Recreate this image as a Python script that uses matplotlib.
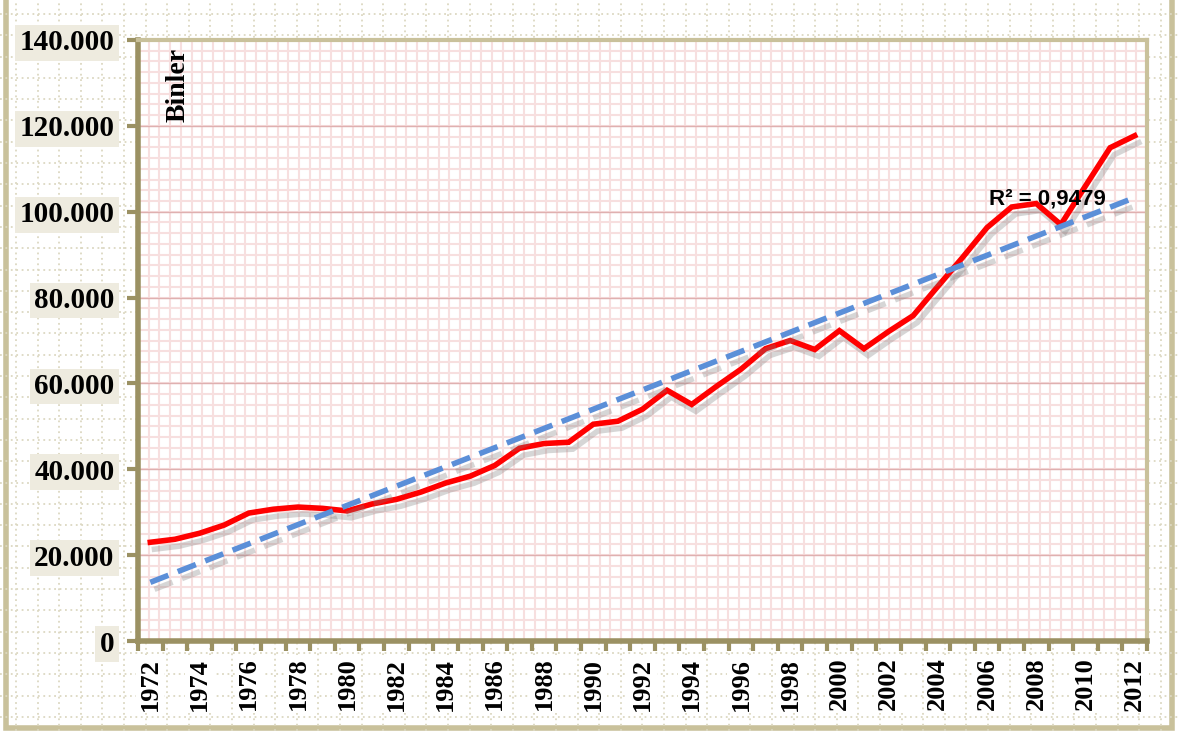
import numpy as np
from matplotlib import pyplot as plt
from matplotlib import patheffects as pe
from matplotlib.patches import Rectangle

# Yillar ve degerler (binler)
years = list(range(1972, 2013))
values = [23000, 23700, 25100, 27000, 29800, 30700, 31200, 30900, 30300, 31900,
          33000, 34700, 36800, 38400, 40900, 44900, 46000, 46300, 50500, 51200,
          54000, 58400, 55100, 59300, 63300, 68100, 70000, 67900, 72300, 68100,
          72100, 75800, 82600, 89300, 96300, 101100, 101900, 97000, 106000, 114900,
          117700]
y_ticks = [0, 20000, 40000, 60000, 80000, 100000, 120000, 140000]
y_labels = ['0', '20.000', '40.000', '60.000', '80.000', '100.000', '120.000', '140.000']
r2_text = 'R² = 0,9479'

olive = '#9b9163'
beige = '#c9c19b'

fig = plt.figure(figsize=(11.78, 7.31), dpi=100)
fig.patch.set_facecolor('white')

# arka plan: noktali izgara
bg = fig.add_axes([0, 0, 1, 1], zorder=-5)
bg.set_xlim(0, 1178)
bg.set_ylim(731, 0)
bg.axis('off')
for gx in np.arange(16, 1178, 21.6):
    bg.axvline(gx, color='#dcd8c2', lw=1.3, ls=(0, (1, 2)))
for gy in np.arange(14, 731, 21.3):
    bg.axhline(gy, color='#dcd8c2', lw=1.3, ls=(0, (1, 2)))
bg.add_patch(Rectangle((6, -5), 1166, 733, fill=False, ec=beige, lw=4))

ax = fig.add_axes([138 / 1178, 1 - 641 / 731, 1009 / 1178, 601 / 731])
ax.set_facecolor('white')
x = np.arange(len(years))
ax.set_xlim(-0.5, len(years) - 0.5)
ax.set_ylim(0, 140000)

# pembe kareli desen
for gy in np.arange(0, 140000, 2500):
    ax.axhline(gy, color='#f7dfdf', lw=1.5, zorder=0)
for gx in np.linspace(0, 1, 95):
    ax.axvline(x=-0.5 + gx * len(years), color='#f7dfdf', lw=1.5, zorder=0)
for gy in y_ticks[1:-1]:
    ax.axhline(gy, color='#dfb0b0', lw=1.0, zorder=0.5)

# trend cizgisi
coef = np.polyfit(x, values, 1)
trend = np.polyval(coef, x)
shadow = [pe.SimpleLineShadow(offset=(3, -5), shadow_color='#7a7a7a', alpha=0.3), pe.Normal()]
ax.plot(x, values, color='#ff0000', lw=4, solid_joinstyle='miter', zorder=3,
        path_effects=shadow)
ax.plot(x, trend, color='#5b8fd8', lw=4, ls=(0, (3.5, 1.8)), zorder=4,
        path_effects=shadow)

ax.text(36.45, 103000, r2_text, fontsize=16, fontweight='bold', family='Liberation Sans',
        ha='center', va='center', zorder=5)
ax.text(0.04, 0.987, 'Binler', transform=ax.transAxes, rotation=90, ha='center', va='top',
        fontsize=20, fontweight='bold', family='Liberation Serif')

for s in ['top', 'right']:
    ax.spines[s].set_color(beige)
    ax.spines[s].set_linewidth(3)
for s in ['left', 'bottom']:
    ax.spines[s].set_color(olive)
    ax.spines[s].set_linewidth(4)

box = dict(boxstyle='square,pad=0.15', fc='#eeebdf', ec='none')
ax.set_yticks(y_ticks)
ax.set_yticklabels(y_labels, fontsize=21, fontweight='bold', family='Liberation Serif')
for t in ax.get_yticklabels():
    t.set_bbox(box)
ax.tick_params(axis='y', length=8, width=3, color=olive, pad=9)

ax.set_xticks(np.arange(-0.5, len(years)), minor=False)
ax.set_xticklabels([])
ax.tick_params(axis='x', which='major', length=7, width=3, color=olive)
ax.set_xticks(x[::2], minor=True)
ax.set_xticklabels([str(y) for y in years[::2]], minor=True, rotation=90,
                   fontsize=19, fontweight='bold', family='Liberation Serif')
ax.tick_params(axis='x', which='minor', length=0, pad=12)
for t in ax.get_xticklabels(minor=True):
    t.set_bbox(dict(boxstyle='square,pad=0.1', fc='white', ec='none'))

fig.savefig('out.png', dpi=100)
